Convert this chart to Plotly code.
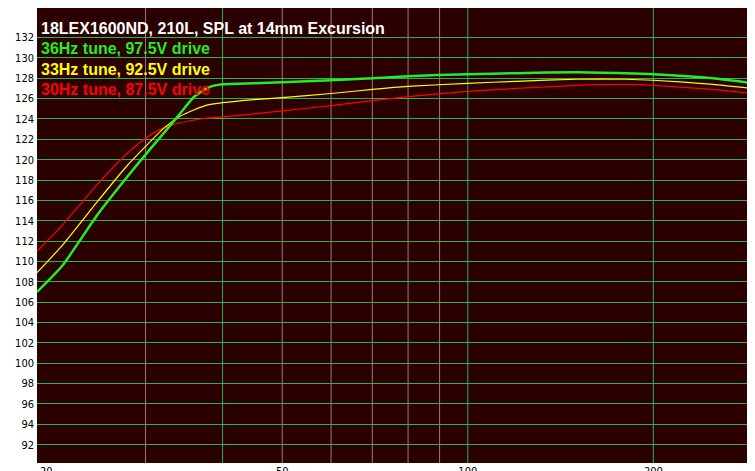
import plotly.graph_objects as go

freq = [20, 22, 25, 28, 30, 32, 34, 36, 38, 40, 45, 50, 60, 70, 80, 100, 120, 150, 180, 200, 250, 300]
spl_36 = [107.0, 109.6, 114.5, 118.3, 120.5, 122.5, 124.4, 126.2, 127.1, 127.4, 127.5, 127.6, 127.8, 128.0, 128.2, 128.4, 128.5, 128.6, 128.5, 128.4, 128.0, 127.4]
spl_33 = [108.9, 111.6, 115.8, 119.4, 121.3, 123.0, 124.2, 124.9, 125.4, 125.6, 125.9, 126.1, 126.5, 126.9, 127.2, 127.5, 127.7, 127.9, 127.9, 127.8, 127.4, 126.9]
spl_30 = [111.0, 113.6, 117.5, 120.6, 122.1, 123.1, 123.6, 123.9, 124.1, 124.2, 124.5, 124.8, 125.3, 125.8, 126.2, 126.7, 127.0, 127.3, 127.4, 127.3, 126.9, 126.4]

labels = ["36Hz tune, 97.5V drive", "33Hz tune, 92.5V drive", "30Hz tune, 87.5V drive"]
colors = ["#22ee22", "#ffff00", "#ff0000"]
widths = [2.5, 1.2, 1.2]

grid_x = [30, 40, 50, 60, 70, 80, 90, 100, 200]
grid_green = [40, 100, 200]
y_ticks = list(range(92, 133, 2))

fig = go.Figure()
for lab, ys, c, w in zip(labels[::-1], [spl_30, spl_33, spl_36], colors[::-1], widths[::-1]):
    fig.add_trace(go.Scatter(x=freq, y=ys, mode="lines", name=lab,
                             line=dict(color=c, width=w, shape="spline", smoothing=0.5)))

for gx in grid_x:
    fig.add_vline(x=gx, line_color="#2db34a" if gx in grid_green else "#a07878", line_width=1, layer="below")

fig.add_annotation(x=0.003, y=0.956, xref="paper", yref="paper", xanchor="left", yanchor="middle",
                   showarrow=False, text="<b>18LEX1600ND, 210L, SPL at 14mm Excursion</b>",
                   font=dict(color="white", size=16, family="Liberation Sans"))
for i, (lab, c) in enumerate(zip(labels, colors)):
    fig.add_annotation(x=0.003, y=0.910 - i * 0.045, xref="paper", yref="paper", xanchor="left",
                       yanchor="middle", showarrow=False, text="<b>" + lab + "</b>",
                       font=dict(color=c, size=16, family="Liberation Sans"))

fig.update_layout(
    width=755, height=471, margin=dict(l=29, r=0, t=0, b=16, autoexpand=False),
    paper_bgcolor="white", plot_bgcolor="#2a0000", showlegend=False,
    font=dict(family="DejaVu Sans Condensed, Liberation Sans", size=11, color="black"),
)
fig.update_xaxes(type="log", range=[1.301, 2.479], tickvals=[20.7, 50, 100, 200],
                 ticktext=["20", "50", "100", "200"], showgrid=False, zeroline=False,
                 ticks="", automargin=False, ticklabelstandoff=0)
fig.update_yaxes(range=[90.2, 134.9], tickvals=y_ticks, gridcolor="#2db34a", gridwidth=1,
                 zeroline=False, ticks="", automargin=False, ticklabelstandoff=2)
fig.write_html("out.html")
